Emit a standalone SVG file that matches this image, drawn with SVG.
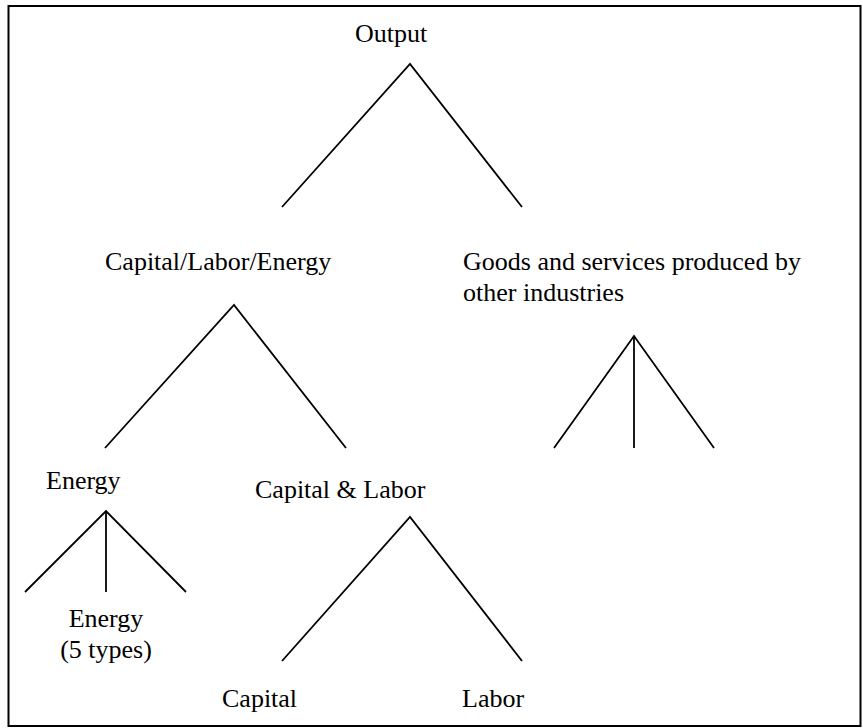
<svg xmlns="http://www.w3.org/2000/svg" width="863" height="728" viewBox="0 0 863 728">
<style>
.c{fill:none;stroke:#000;stroke-width:1.8;stroke-linejoin:miter}
.frame{fill:#fff;stroke:#000;stroke-width:2}
.t{font-family:'Times New Roman','Liberation Serif',Tinos,serif;font-size:26px;fill:#000}
</style>
<rect class="frame" x="8.5" y="6" width="852" height="720"/>
<g id="connectors">
<polyline class="c" points="282,207 410,64 522,207"/>
<polyline class="c" points="105,448 234,305 346,448"/>
<polyline class="c" points="554,448 634,336 714,448"/>
<line class="c" x1="634" y1="336" x2="634" y2="448"/>
<polyline class="c" points="25,592 106,511 186,592"/>
<line class="c" x1="106" y1="511" x2="106" y2="592"/>
<polyline class="c" points="282,661 410,517 522,661"/>
</g>
<g id="output"><text class="t" x="355" y="42">Output</text></g>
<g id="cle"><text class="t" x="105" y="270">Capital/Labor/Energy</text></g>
<g id="goods"><text class="t" x="463" y="270">Goods and services produced by</text><text class="t" x="463" y="301">other industries</text></g>
<g id="energy"><text class="t" x="46" y="489">Energy</text></g>
<g id="capital-labor"><text class="t" x="255" y="498">Capital &amp; Labor</text></g>
<g id="energy-types"><text class="t" x="106" y="627" text-anchor="middle">Energy</text><text class="t" x="106" y="658" text-anchor="middle">(5 types)</text></g>
<g id="capital"><text class="t" x="222" y="707">Capital</text></g>
<g id="labor"><text class="t" x="462" y="707">Labor</text></g>
</svg>
